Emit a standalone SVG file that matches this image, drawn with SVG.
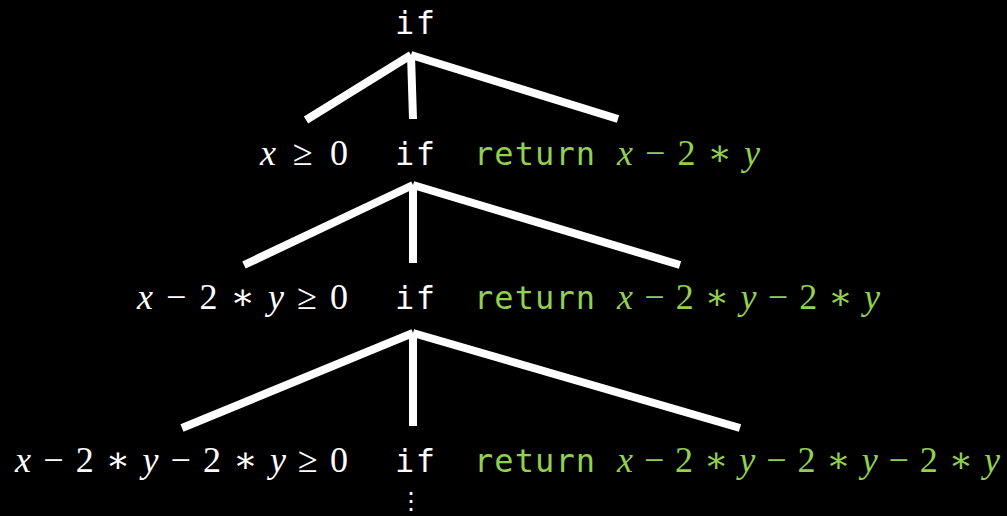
<svg xmlns="http://www.w3.org/2000/svg" width="1007" height="516" viewBox="0 0 1007 516">
<style>
.bg{fill:#000}
.edge{stroke:#fff;stroke-width:8;fill:none;stroke-linecap:butt}
.mono{font-family:"DejaVu Sans Mono","Liberation Mono",monospace;font-size:32px}
.math{font-family:"Liberation Serif","DejaVu Serif",serif;font-size:36px}
.w{fill:#fff}
.g{fill:#92D050}
.i{font-style:italic}
</style>
<rect class="bg" x="0" y="0" width="1007" height="516"/>
<g id="connectors">
<line class="edge" x1="411" y1="55" x2="306" y2="120"/>
<line class="edge" x1="411" y1="55" x2="413" y2="119"/>
<line class="edge" x1="411" y1="55" x2="618" y2="119"/>
<line class="edge" x1="413" y1="185" x2="244" y2="265"/>
<line class="edge" x1="413" y1="185" x2="413" y2="263"/>
<line class="edge" x1="413" y1="185" x2="680" y2="265"/>
<line class="edge" x1="413" y1="333" x2="182" y2="428"/>
<line class="edge" x1="413" y1="333" x2="413" y2="426"/>
<line class="edge" x1="413" y1="333" x2="740" y2="428"/>
</g>
<g id="if0"><text class="mono w" x="395" y="34" textLength="40">if</text></g>
<g id="cond1"><text class="math w" x="260" y="165" textLength="88"><tspan class="i">x</tspan> ≥ 0</text></g>
<g id="if1"><text class="mono w" x="395" y="165" textLength="40">if</text></g>
<g id="ret1"><text class="mono g" x="474" y="165" textLength="121">return</text><text class="math g" x="617" y="165" textLength="143"><tspan class="i">x</tspan> − 2 ∗ <tspan class="i">y</tspan></text></g>
<g id="cond2"><text class="math w" x="137" y="309" textLength="211"><tspan class="i">x</tspan> − 2 ∗ <tspan class="i">y</tspan> ≥ 0</text></g>
<g id="if2"><text class="mono w" x="395" y="309" textLength="40">if</text></g>
<g id="ret2"><text class="mono g" x="474" y="309" textLength="121">return</text><text class="math g" x="617" y="309" textLength="263"><tspan class="i">x</tspan> − 2 ∗ <tspan class="i">y</tspan> − 2 ∗ <tspan class="i">y</tspan></text></g>
<g id="cond3"><text class="math w" x="15" y="472" textLength="333"><tspan class="i">x</tspan> − 2 ∗ <tspan class="i">y</tspan> − 2 ∗ <tspan class="i">y</tspan> ≥ 0</text></g>
<g id="if3"><text class="mono w" x="395" y="472" textLength="40">if</text></g>
<g id="ret3"><text class="mono g" x="474" y="472" textLength="121">return</text><text class="math g" x="617" y="472" textLength="383"><tspan class="i">x</tspan> − 2 ∗ <tspan class="i">y</tspan> − 2 ∗ <tspan class="i">y</tspan> − 2 ∗ <tspan class="i">y</tspan></text></g>
<g id="more"><text class="w" x="411" y="509" text-anchor="middle" style="font-family:'DejaVu Sans',sans-serif;font-size:24px">⋮</text></g>
</svg>
